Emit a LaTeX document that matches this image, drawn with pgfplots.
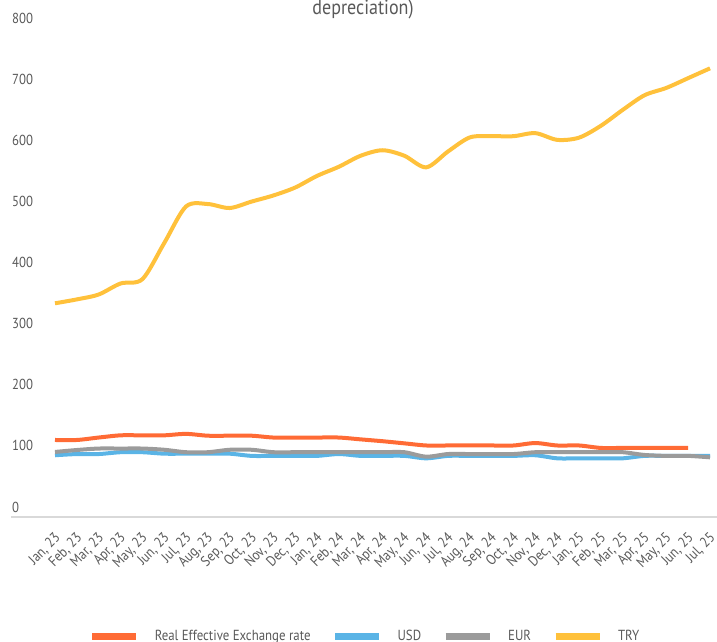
\documentclass[border=0pt]{standalone}
\usepackage{fontspec}
\setmainfont{PT Sans}[FakeStretch=0.88]
\usepackage{pgfplots}
\pgfplotsset{compat=1.18}
\definecolor{reer}{HTML}{FF6B35}
\definecolor{usd}{HTML}{5AB4E6}
\definecolor{eur}{HTML}{9B9B9B}
\definecolor{try}{HTML}{FFC13B}
\definecolor{txt}{HTML}{595959}
\definecolor{axl}{HTML}{D9D9D9}
\begin{document}
\begin{tikzpicture}
\useasboundingbox (-11bp,-125bp) rectangle (706bp,517bp);
\begin{axis}[
  scale only axis, width=706bp, height=489bp,
  xmin=-2.015, xmax=30.32, ymin=0, ymax=800,
  axis x line*=bottom, axis y line*=left,
  x axis line style={axl, line width=2.5bp, -},
  y axis line style={draw=none},
  major tick length=0pt,
  ytick={0,100,...,800},
  /pgf/number format/assume math mode=true,
  yticklabel style={anchor=west, inner sep=0pt, xshift=1bp, yshift=10bp, font=\fontsize{14.5bp}{16bp}\selectfont, text=txt},
  xtick={0,...,30},
  xticklabels={{Jan, 23},{Feb, 23},{Mar, 23},{Apr, 23},{May, 23},{Jun, 23},{Jul, 23},{Aug, 23},{Sep, 23},{Oct, 23},{Nov, 23},{Dec, 23},{Jan, 24},{Feb, 24},{Mar, 24},{Apr, 24},{May, 24},{Jun, 24},{Jul, 24},{Aug, 24},{Sep, 24},{Oct, 24},{Nov, 24},{Dec, 24},{Jan, 25},{Feb, 25},{Mar, 25},{Apr, 25},{May, 25},{Jun, 25},{Jul, 25}},
  xticklabel style={xshift=3bp, yshift=-19bp, rotate=45, anchor=east, inner sep=0pt, font=\fontsize{14.5bp}{16bp}\selectfont, text=txt},
  legend columns=-1,
  legend style={at={(axis description cs:0.5,0)}, anchor=center, yshift=-119bp, draw=none, fill=none,
    font=\fontsize{14.6bp}{16bp}\selectfont, text=txt,
    /tikz/every odd column/.style={column sep=15bp},
    /tikz/every even column/.style={column sep=21bp},
    nodes={inner sep=0pt}},
  legend image code/.code={\draw[#1, line width=7bp] (0bp,0bp) -- (44bp,0bp);},
  every axis plot/.append style={line width=4bp, smooth, tension=0.5, no marks},
]
\addplot[reer] coordinates {(0,126)(1,126)(2,130)(3,133.6)(4,133.6)(5,133.6)(6,136)(7,133)(8,133)(9,133)(10,130)(11,130)(12,130)(13,130)(14,127)(15,124)(16,120.5)(17,117)(18,117)(19,117)(20,117)(21,117)(22,121)(23,117)(24,117)(25,113)(26,113)(27,113)(28,113)(29,113)};
\addlegendentry{Real Effective Exchange rate}
\addplot[usd] coordinates {(0,101)(1,103)(2,103)(3,106)(4,106)(5,103.6)(6,103.6)(7,103.6)(8,103.6)(9,100)(10,100)(11,100)(12,100)(13,103)(14,100)(15,100)(16,100)(17,96)(18,100)(19,100)(20,100)(21,100)(22,101)(23,96)(24,96)(25,96)(26,96)(27,100)(28,100)(29,100)(30,100)};
\addlegendentry{USD}
\addplot[eur] coordinates {(0,106.4)(1,109.6)(2,112)(3,112)(4,112)(5,110)(6,106)(7,106)(8,110)(9,110)(10,106)(11,106)(12,106)(13,106)(14,106)(15,106)(16,106)(17,98.7)(18,103)(19,103)(20,103)(21,103)(22,106)(23,106)(24,106)(25,106)(26,106)(27,101.5)(28,100)(29,100)(30,97.6)};
\addlegendentry{EUR}
\addplot[try] coordinates {(0,349.6)(1,356)(2,364)(3,382)(4,389)(5,448)(6,508)(7,512)(8,505.5)(9,516)(10,526)(11,539)(12,558)(13,573)(14,591)(15,600)(16,591)(17,572)(18,598)(19,621)(20,623)(21,623)(22,628)(23,617)(24,620.6)(25,640)(26,666)(27,690)(28,702)(29,718)(30,734)};
\addlegendentry{TRY}
\end{axis}
\node[anchor=base, text=txt, font=\fontsize{20.5bp}{24bp}\selectfont, inner sep=0pt] at (352bp,502bp) {depreciation)};
\end{tikzpicture}
\end{document}
